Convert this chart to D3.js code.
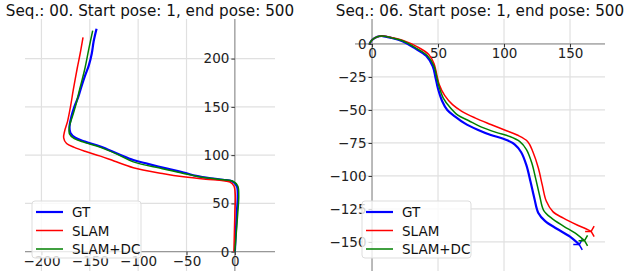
<!DOCTYPE html>
<html>
<head>
<meta charset="utf-8">
<script src="https://cdn.jsdelivr.net/npm/d3@7"></script>
<style>
  body { margin: 0; background: #fff; }
  svg { font-family: "DejaVu Sans", sans-serif; }
</style>
</head>
<body>
<svg id="chart" width="624" height="271"></svg>
<script>
// Données : [x, y]
const seriesNames = ["GT", "SLAM", "SLAM+DC"];
const seriesColors = ["#0000ff", "#ff0000", "#008000"];

// Séquence 00
const seq00GT = [[0,0],[1,20],[2,40],[3,58],[2,68],[-3,73],[-12,74.5],[-25,76],[-40,78.5],[-53,82],[-70,86],[-90,91],[-105,95],[-120,101],[-139,109],[-155,114],[-165,118],[-170,123],[-171,129],[-169,140],[-166,150],[-162,160],[-159,170],[-155,182],[-151,193],[-148,205],[-146,218],[-143,231]];
const seq00SLAM = [[-1,0],[-0.5,20],[0,40],[0.5,58],[-1,68],[-5,72],[-12,73.5],[-30,75],[-53,77.5],[-75,81],[-105,87],[-125,94],[-139,99],[-155,104],[-166,108],[-174,112],[-177,118],[-176,125],[-173,135],[-170,150],[-167,168],[-163,190],[-160,205],[-157,222]];
const seq00DC = [[0,0],[1.5,20],[3,40],[4,58],[3,68],[-2,73],[-12,74.5],[-30,76.5],[-53,81],[-75,86],[-105,93],[-122,101],[-139,108],[-155,113],[-166,117],[-171,122],[-171,130],[-168,140],[-165,150],[-160,170],[-155,190],[-151,210],[-147,229]];

// Séquence 06
const seq06GT = [[-2,0],[0,3],[4,5.5],[8,6],[15,4.5],[23,2],[32,-3],[41,-9],[46,-17],[48,-25],[50,-34],[53,-43],[57,-50],[63,-55],[70,-60],[80,-65],[90,-69],[100,-72],[108,-76],[113,-82],[117,-92],[120,-104],[123,-117],[126,-128],[131,-134],[140,-140],[150,-146],[157,-152]];
const seq06SLAM = [[-2,0],[0,3],[4,5.5],[8,6],[15,4.8],[24,2.5],[34,-2],[43,-8],[47,-15],[49,-23],[51,-31],[55,-39],[61,-46],[68,-51],[78,-56],[90,-61],[100,-65],[110,-69],[118,-74],[122,-82],[126,-94],[129,-107],[132,-119],[137,-127],[145,-132],[155,-137],[162,-140],[166,-142]];
const seq06DC = [[-2,0],[0,3],[4,5.5],[8,6],[15,4.6],[24,2],[33,-3],[42,-9],[47,-17],[49,-25],[51,-33],[54,-41],[59,-48],[65,-54],[73,-58],[83,-63],[94,-67],[104,-70],[112,-74],[117,-80],[121,-90],[124,-102],[127,-115],[130,-126],[136,-132],[145,-138],[155,-144],[161,-149]];

const titles = ["Seq.: 00. Start pose: 1, end pose: 500", "Seq.: 06. Start pose: 1, end pose: 500"];
const xTicks00 = [-200, -150, -100, -50, 0];
const yTicks00 = [0, 50, 100, 150, 200];
const xTicks06 = [0, 50, 100, 150];
const yTicks06 = [0, -25, -50, -75, -100, -125, -150];

const svg = d3.select("#chart");

function drawPanel(id, box, xDom, yDom, xTicks, yTicks, title, series, endMarkers) {
  const x = d3.scaleLinear().domain(xDom).range([box.left, box.right]);
  const y = d3.scaleLinear().domain(yDom).range([box.bottom, box.top]);
  const g = svg.append("g");

  g.append("clipPath").attr("id", "clip" + id)
    .append("rect")
    .attr("x", box.left).attr("y", box.top)
    .attr("width", box.right - box.left).attr("height", box.bottom - box.top);

  // Grille
  g.selectAll(".gx").data(xTicks).enter().append("line")
    .attr("x1", d => x(d)).attr("x2", d => x(d))
    .attr("y1", box.top).attr("y2", box.bottom)
    .attr("stroke", "#e0e0e0").attr("stroke-width", 1.2);
  g.selectAll(".gy").data(yTicks).enter().append("line")
    .attr("y1", d => y(d)).attr("y2", d => y(d))
    .attr("x1", box.left).attr("x2", box.right)
    .attr("stroke", "#e0e0e0").attr("stroke-width", 1.2);

  // Lignes des axes (passent par zéro)
  g.append("line").attr("x1", box.left).attr("x2", box.right)
    .attr("y1", y(0)).attr("y2", y(0)).attr("stroke", "#888").attr("stroke-width", 1);
  g.append("line").attr("x1", x(0)).attr("x2", x(0))
    .attr("y1", box.top).attr("y2", box.bottom).attr("stroke", "#888").attr("stroke-width", 1);

  // Graduations
  const fmt = d => d < 0 ? "\u2212" + Math.abs(d) : d;
  const xAxis = d3.axisBottom(x).tickValues(xTicks).tickSize(3.5).tickPadding(1).tickFormat(fmt);
  const yAxis = d3.axisLeft(y).tickValues(yTicks).tickSize(3.5).tickPadding(2).tickFormat(fmt);
  const gx = g.append("g").attr("transform", `translate(0,${y(0)})`).call(xAxis);
  const gy = g.append("g").attr("transform", `translate(${x(0)},0)`).call(yAxis);
  [gx, gy].forEach(a => {
    a.select(".domain").remove();
    a.selectAll("line").attr("stroke", "#333");
    a.selectAll("text").attr("font-size", 13.5).attr("fill", "#222")
      .attr("font-family", "DejaVu Sans");
  });

  // Trajectoires
  const line = d3.line().x(d => x(d[0])).y(d => y(d[1])).curve(d3.curveCatmullRom);
  const tri = "M0,0L-6,0M0,0L3,-5.2M0,0L3,5.2";
  const paths = g.append("g").attr("clip-path", `url(#clip${id})`);
  series.forEach((s, i) => {
    paths.append("path").datum(s)
      .attr("d", line)
      .attr("fill", "none")
      .attr("stroke", seriesColors[i])
      .attr("stroke-width", i === 0 ? 2.2 : 1.5);
    if (endMarkers) {
      const p = s[s.length - 1];
      paths.append("path").attr("d", tri)
        .attr("transform", `translate(${x(p[0])},${y(p[1])})`)
        .attr("fill", "none").attr("stroke", seriesColors[i]).attr("stroke-width", 1.5);
    }
  });

  // Légende (au-dessus des graduations)
  const lg = g.append("g").attr("transform", `translate(${box.left + box.legendDx},201)`);
  lg.append("rect").attr("x", 0).attr("y", 0).attr("width", 109).attr("height", 57)
    .attr("rx", 3).attr("fill", "#fff").attr("fill-opacity", 0.8)
    .attr("stroke", "#ddd");
  seriesNames.forEach((n, i) => {
    const yy = 11 + i * 18.5;
    lg.append("line").attr("x1", 4).attr("x2", 31).attr("y1", yy).attr("y2", yy)
      .attr("stroke", seriesColors[i]).attr("stroke-width", i === 0 ? 2.2 : 1.5);
    lg.append("text").attr("x", 40).attr("y", yy + 5).attr("font-size", 13.5)
      .attr("fill", "#111").text(n);
  });

  // Titre
  g.append("text").attr("x", (box.left + box.right) / 2).attr("y", 16)
    .attr("text-anchor", "middle").attr("font-size", 15.2).attr("fill", "#111")
    .text(title);
}

drawPanel("a", { left: 25, right: 275, top: 19, bottom: 271, legendDx: 7 },
  [-217, 41.5], [-20, 241], xTicks00, yTicks00, titles[0], [seq00GT, seq00SLAM, seq00DC], false);
drawPanel("b", { left: 355, right: 605, top: 19, bottom: 271, legendDx: 7 },
  [-12.9, 176.5], [-172, 18.9], xTicks06, yTicks06, titles[1], [seq06GT, seq06SLAM, seq06DC], true);
</script>
</body>
</html>
